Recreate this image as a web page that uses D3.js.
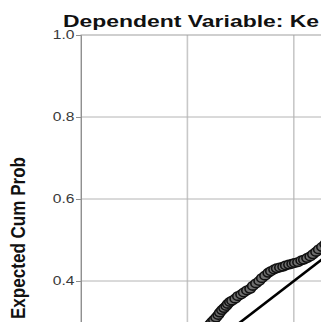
<!DOCTYPE html>
<html>
<head>
<meta charset="utf-8">
<script src="https://cdn.jsdelivr.net/npm/d3@7"></script>
<style>
  html, body { margin: 0; padding: 0; background: #fff; }
  svg { display: block; overflow: hidden; }
</style>
</head>
<body>
<div id="chart"></div>
<script>
// P-P plot values (observed vs expected cumulative probability)
const obsProb = [0.243, 0.246, 0.250, 0.254, 0.258, 0.261, 0.265, 0.269, 0.273, 0.276,
                 0.280, 0.284, 0.290, 0.295, 0.301, 0.306, 0.312, 0.318, 0.323, 0.329,
                 0.335, 0.340, 0.346, 0.352, 0.357, 0.363, 0.368, 0.374, 0.380, 0.385,
                 0.391, 0.397, 0.402, 0.408, 0.414, 0.419, 0.425, 0.431, 0.436, 0.442,
                 0.447, 0.453, 0.459];
const expProb = [0.295, 0.300, 0.305, 0.311, 0.317, 0.323, 0.329, 0.334, 0.339, 0.344,
                 0.349, 0.352, 0.357, 0.363, 0.367, 0.372, 0.377, 0.381, 0.388, 0.394,
                 0.400, 0.407, 0.413, 0.420, 0.424, 0.428, 0.431, 0.433, 0.435, 0.438,
                 0.440, 0.442, 0.444, 0.446, 0.450, 0.452, 0.456, 0.460, 0.465, 0.471,
                 0.477, 0.483, 0.490];
const yTicks = [0.4, 0.6, 0.8, 1.0];
const gridVals = [0.2, 0.4, 0.6, 0.8];
const titleText = "Dependent Variable: Ke";
const yLabel = "Expected Cum Prob";

const W = 321, H = 322;
const stretch = 1.3; // the picture is wider than tall, text and markers too

const svg = d3.select("#chart")
    .append("svg")
    .attr("width", W)
    .attr("height", H);

const x = d3.scaleLinear().domain([0, 1]).range([81, 613]);
const y = d3.scaleLinear().domain([0, 1]).range([445, 35]);

// gridlines
svg.append("g")
    .selectAll("line")
    .data(gridVals)
    .enter()
    .append("line")
    .attr("x1", d => x(d)).attr("x2", d => x(d))
    .attr("y1", y(0)).attr("y2", y(1))
    .attr("stroke", "#c8c8c8")
    .attr("stroke-width", 1.6);

svg.append("g")
    .selectAll("line")
    .data(gridVals)
    .enter()
    .append("line")
    .attr("x1", x(0)).attr("x2", x(1))
    .attr("y1", d => y(d)).attr("y2", d => y(d))
    .attr("stroke", "#b4b4b4")
    .attr("stroke-width", 1);

// frame
svg.append("rect")
    .attr("x", x(0)).attr("y", y(1))
    .attr("width", x(1) - x(0)).attr("height", y(0) - y(1))
    .attr("fill", "none")
    .attr("stroke", "#a0a0a0")
    .attr("stroke-width", 1);

// y axis
const yAxis = svg.append("g")
    .attr("transform", `translate(${x(0)},0)`)
    .call(d3.axisLeft(y).tickValues(yTicks).tickFormat(d3.format(".1f")).tickSize(5).tickPadding(0));
yAxis.select(".domain").attr("stroke", "#909090");
yAxis.selectAll(".tick line").attr("stroke", "#909090");
yAxis.selectAll(".tick text")
    .attr("transform", `scale(${stretch},1)`)
    .attr("font-family", "Liberation Sans, Arial, sans-serif")
    .attr("font-size", 12)
    .attr("fill", "#3a3a3a");

// reference diagonal
svg.append("line")
    .attr("x1", x(0)).attr("y1", y(0))
    .attr("x2", x(1)).attr("y2", y(1))
    .attr("stroke", "#000")
    .attr("stroke-width", 2.6);

// points
svg.append("g")
    .selectAll("ellipse")
    .data(obsProb.map((d, i) => ({ o: d, e: expProb[i] })))
    .enter()
    .append("ellipse")
    .attr("cx", d => x(d.o))
    .attr("cy", d => y(d.e))
    .attr("rx", 5.2)
    .attr("ry", 4.2)
    .attr("fill", "#6e6e6e")
    .attr("stroke", "#111")
    .attr("stroke-width", 1.6);

// title
svg.append("text")
    .attr("transform", `translate(63,27) scale(${stretch},1)`)
    .attr("font-family", "Liberation Sans, Arial, sans-serif")
    .attr("font-weight", "700")
    .attr("font-size", 17)
    .attr("textLength", 197)
    .attr("lengthAdjust", "spacingAndGlyphs")
    .attr("fill", "#111")
    .text(titleText);

// y label
svg.append("text")
    .attr("transform", `translate(25,238) scale(${stretch},1) rotate(-90)`)
    .attr("text-anchor", "middle")
    .attr("font-family", "Liberation Sans, Arial, sans-serif")
    .attr("font-weight", "700")
    .attr("font-size", 16)
    .attr("textLength", 162)
    .attr("lengthAdjust", "spacingAndGlyphs")
    .attr("fill", "#111")
    .text(yLabel);
</script>
</body>
</html>
